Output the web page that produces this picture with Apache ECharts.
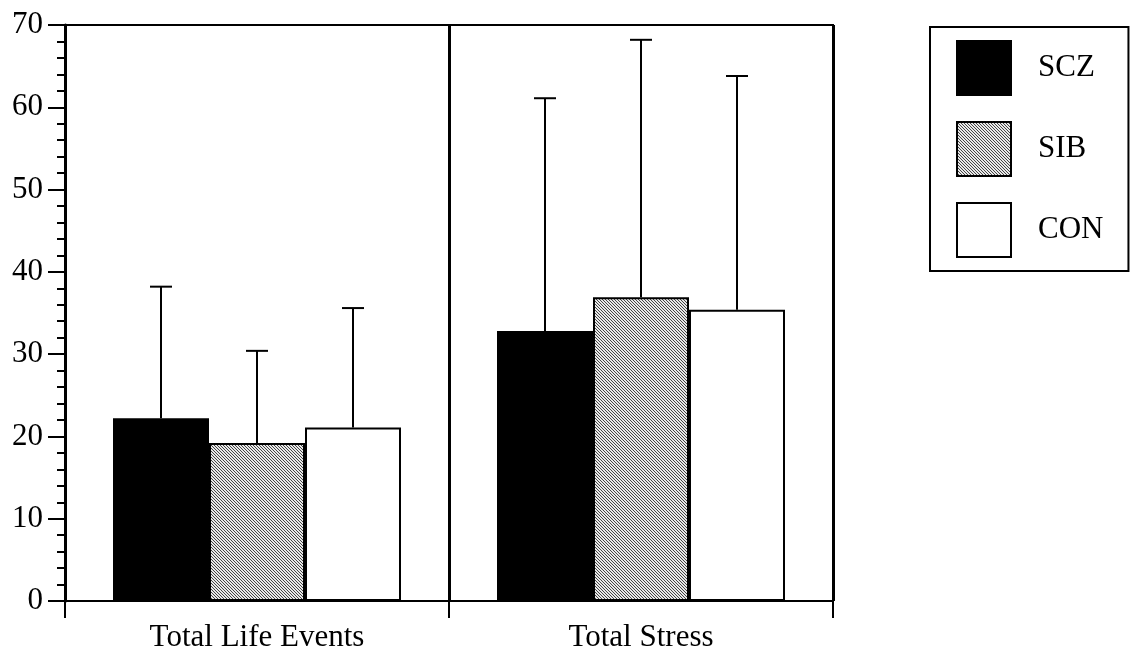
<!DOCTYPE html>
<html>
<head>
<meta charset="utf-8">
<script src="https://cdn.jsdelivr.net/npm/echarts@6/dist/echarts.min.js"></script>
<style>
  html, body { margin: 0; padding: 0; background: #fff; }
  #chart { width: 1130px; height: 653px; }
</style>
</head>
<body>
<div id="chart"></div>
<script>
// Group means and standard deviations per measure
const categories = ['Total Life Events', 'Total Stress'];
const groupNames = ['SCZ', 'SIB', 'CON'];
const sczMean = [22.2, 32.8];
const sczSD   = [16.0, 28.3];
const sibMean = [19.2, 36.9];
const sibSD   = [11.2, 31.3];
const conMean = [21.1, 35.4];
const conSD   = [14.5, 28.4];

const FONT = '"Liberation Serif", "Times New Roman", serif';

// Fine diagonal hatch used for the SIB bars
function hatchTile() {
  const c = document.createElement('canvas');
  c.width = 3; c.height = 3;
  const ctx = c.getContext('2d');
  ctx.fillStyle = '#e8e8e8';
  ctx.fillRect(0, 0, 3, 3);
  ctx.fillStyle = '#444';
  for (let y = 0; y < 3; y++) {
    for (let x = 0; x < 3; x++) {
      if ((x - y + 3) % 3 === 0) ctx.fillRect(x, y, 1, 1);
    }
  }
  return c;
}
const hatch = { image: hatchTile(), repeat: 'repeat' };

const fills = [
  { color: '#000', borderColor: '#000', borderWidth: 2 },
  { color: hatch, borderColor: '#000', borderWidth: 2 },
  { color: '#fff', borderColor: '#000', borderWidth: 2 }
];
const means = [sczMean, sibMean, conMean];
const sds = [sczSD, sibSD, conSD];

const BAR_FRACTION = 0.25;

function errorSeries(gi) {
  return {
    type: 'custom',
    silent: true,
    z: 5,
    data: categories.map((c, i) => [i, means[gi][i], means[gi][i] + sds[gi][i]]),
    renderItem: function (params, api) {
      const idx = api.value(0);
      const base = api.coord([idx, api.value(1)]);
      const top = api.coord([idx, api.value(2)]);
      const band = api.size([1, 0])[0];
      const x = base[0] + (gi - 1) * band * BAR_FRACTION;
      const half = 11;
      const style = { stroke: '#000', lineWidth: 2 };
      return {
        type: 'group',
        children: [
          { type: 'line', shape: { x1: x, y1: base[1], x2: x, y2: top[1] }, style: style },
          { type: 'line', shape: { x1: x - half, y1: top[1], x2: x + half, y2: top[1] }, style: style }
        ]
      };
    }
  };
}

const barSeries = groupNames.map((name, gi) => ({
  name: name,
  type: 'bar',
  barWidth: (BAR_FRACTION * 100) + '%',
  barGap: '0%',
  itemStyle: fills[gi],
  data: means[gi],
  z: 3
}));

const chart = echarts.init(document.getElementById('chart'), null, { renderer: 'canvas' });
chart.setOption({
  animation: false,
  backgroundColor: '#fff',
  textStyle: { fontFamily: FONT },
  grid: {
    left: 65, right: 297, top: 25, bottom: 52,
    show: true, borderColor: '#000', borderWidth: 2, backgroundColor: 'transparent'
  },
  legend: {
    data: groupNames,
    orient: 'vertical',
    left: 930, top: 27,
    padding: [13, 25, 13, 26],
    itemWidth: 54, itemHeight: 54, itemGap: 25,
    icon: 'rect',
    borderColor: '#000', borderWidth: 2,
    selectedMode: false,
    textStyle: { fontFamily: FONT, fontSize: 31, color: '#000', padding: [0, 0, 0, 22] }
  },
  xAxis: {
    type: 'category',
    data: categories,
    boundaryGap: true,
    axisLine: { lineStyle: { color: '#000', width: 2 } },
    axisTick: { show: true, length: 17, lineStyle: { color: '#000', width: 2 } },
    splitLine: { show: true, lineStyle: { color: '#000', width: 3 } },
    axisLabel: { color: '#000', fontFamily: FONT, fontSize: 31, margin: 21 }
  },
  yAxis: {
    type: 'value',
    min: 0, max: 70, interval: 10,
    axisLine: { show: true, lineStyle: { color: '#000', width: 3 } },
    axisTick: { show: true, length: 17, lineStyle: { color: '#000', width: 2 } },
    minorTick: { show: true, splitNumber: 5, length: 8, lineStyle: { color: '#000', width: 2 } },
    splitLine: { show: false },
    axisLabel: { color: '#000', fontFamily: FONT, fontSize: 31, margin: 22 }
  },
  series: barSeries.concat([errorSeries(0), errorSeries(1), errorSeries(2)])
});
</script>
</body>
</html>
